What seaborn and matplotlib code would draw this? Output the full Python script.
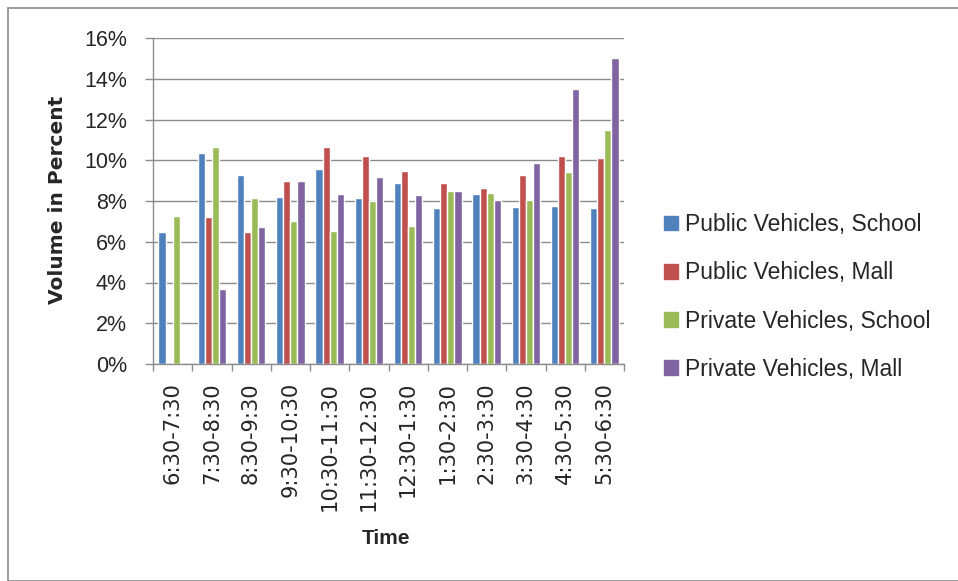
import matplotlib
matplotlib.use("Agg")
import matplotlib.pyplot as plt
import seaborn as sns
import pandas as pd
from matplotlib.patches import Rectangle
from matplotlib.ticker import FuncFormatter

times = ["6:30-7:30", "7:30-8:30", "8:30-9:30", "9:30-10:30", "10:30-11:30",
         "11:30-12:30", "12:30-1:30", "1:30-2:30", "2:30-3:30", "3:30-4:30",
         "4:30-5:30", "5:30-6:30"]
series_names = ["Public Vehicles, School", "Public Vehicles, Mall",
                "Private Vehicles, School", "Private Vehicles, Mall"]
public_school = [6.5, 10.35, 9.3, 8.2, 9.55, 8.15, 8.9, 7.65, 8.35, 7.7, 7.75, 7.65]
public_mall = [0.0, 7.2, 6.5, 9.0, 10.65, 10.2, 9.45, 8.9, 8.65, 9.3, 10.2, 10.1]
private_school = [7.25, 10.65, 8.15, 7.0, 6.55, 8.0, 6.75, 8.5, 8.4, 8.05, 9.4, 11.5]
private_mall = [0.0, 3.7, 6.7, 9.0, 8.35, 9.2, 8.3, 8.5, 8.05, 9.85, 13.5, 15.0]
colors = ["#4F81BD", "#C0504D", "#9BBB59", "#8064A2"]

rows = []
for name, vals in zip(series_names, [public_school, public_mall, private_school, private_mall]):
    for t, v in zip(times, vals):
        rows.append({"Time": t, "Series": name, "Value": v})
df = pd.DataFrame(rows)

sns.set_style("white")
plt.rcParams['font.family'] = ['Liberation Sans', 'DejaVu Sans']

fig = plt.figure(figsize=(9.58, 5.81), dpi=100)
ax = fig.add_axes([153/958, 1-364/581, (624-153)/958, (364-38)/581])

sns.barplot(data=df, x="Time", y="Value", hue="Series", order=times,
            hue_order=series_names, palette=colors, width=0.72, ax=ax,
            saturation=1, legend=False, errorbar=None)

ax.set_ylim(0, 16)
ax.set_xlim(-0.5, len(times) - 0.5)
ax.set_yticks(range(0, 17, 2))
ax.yaxis.set_major_formatter(FuncFormatter(lambda v, p: f"{int(v)}%"))
ax.grid(axis="y", color="#8c8c8c", linewidth=1.0)
ax.set_axisbelow(True)

for s in ["top", "right"]:
    ax.spines[s].set_visible(False)
for s in ["left", "bottom"]:
    ax.spines[s].set_color("#8c8c8c")
    ax.spines[s].set_linewidth(1.0)

ax.set_xticks([i for i in range(len(times))])
ax.set_xticklabels(times, rotation=90, family=['DejaVu Sans'], fontsize=15.1)
ax.tick_params(axis="x", length=0, pad=13)
ax.set_xticks([i - 0.5 for i in range(len(times) + 1)], minor=True)
ax.tick_params(axis="x", which="minor", length=5, color="#8c8c8c", width=1,
               direction="out", bottom=True)
ax.tick_params(axis="y", length=5.8, color="#8c8c8c", width=1, direction="out",
               left=True, pad=13, labelsize=15.5)

ax.set_xlabel("")
ax.set_ylabel("")
fig.text(386/958, 1-538/581, "Time", ha="center", va="center",
         fontsize=15, fontweight="bold")
fig.text(58/958, 1-200/581, "Volume in Percent", ha="center", va="center",
         rotation=90, fontsize=14.5, fontweight="bold", family=['DejaVu Sans'])

handles = [Rectangle((0, 0), 1, 1, color=c) for c in colors]
fig.legend(handles, series_names, loc="center left",
           bbox_to_anchor=(664/958, 1-297/581), frameon=False, fontsize=16.5,
           handlelength=0.6, handleheight=0.6, handletextpad=0.3,
           labelspacing=1.1, borderpad=0, borderaxespad=0)

fig.patches.append(Rectangle((8/958, 0.0), 1.0, 1-8/581, transform=fig.transFigure,
                             fill=False, edgecolor="#8c8c8c", linewidth=1.2))

fig.savefig("out.png", dpi=100)
